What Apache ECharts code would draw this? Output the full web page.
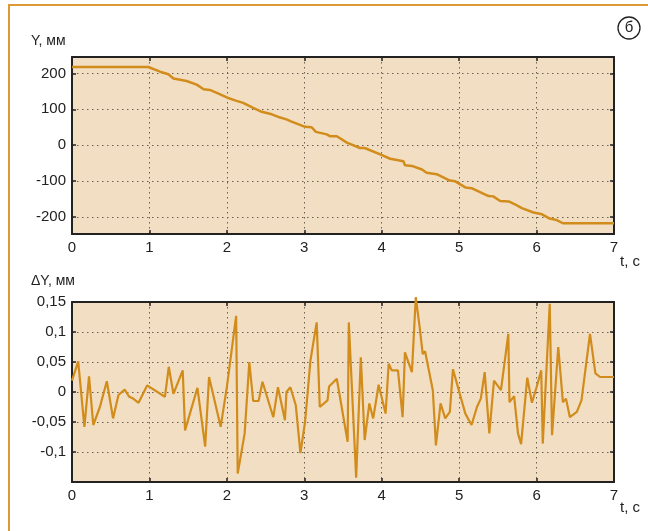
<!DOCTYPE html>
<html>
<head>
<meta charset="utf-8">
<script src="https://cdn.jsdelivr.net/npm/echarts@6/dist/echarts.min.js"></script>
<style>
html,body{margin:0;padding:0;background:#fff;}
#c{width:648px;height:531px;}
</style>
</head>
<body>
<div id="c"></div>
<script>
// ---- Data ----
const xTicks = [0, 1, 2, 3, 4, 5, 6, 7];
const topT = [0, 0.985, 1.137, 1.245, 1.31, 1.48, 1.61, 1.70, 1.78, 1.87, 2.0, 2.105, 2.21, 2.34, 2.45, 2.58, 2.69, 2.77, 2.82, 3.01, 3.095, 3.15, 3.29, 3.33, 3.42, 3.55, 3.72, 3.78, 3.98, 4.11, 4.28, 4.30, 4.39, 4.52, 4.58, 4.71, 4.88, 4.95, 5.08, 5.16, 5.38, 5.44, 5.53, 5.64, 5.72, 5.81, 5.96, 6.07, 6.17, 6.26, 6.34, 7.0];
const topY = [218, 218, 205, 198, 186, 179, 169, 156, 154, 146, 133, 125, 118, 104, 93, 86, 77, 72, 67, 51, 50, 37, 30, 25, 25, 7, -8, -8, -26, -38, -45, -56, -58, -68, -77, -81, -99, -101, -118, -120, -142, -143, -156, -157, -165, -176, -188, -193, -205, -209, -218, -218];
const topYTicks = [-200, -100, 0, 100, 200];

const botT = [0, 0.08, 0.16, 0.22, 0.275, 0.36, 0.45, 0.53, 0.60, 0.68, 0.74, 0.79, 0.86, 0.97, 1.20, 1.25, 1.31, 1.43, 1.46, 1.62, 1.72, 1.77, 1.92, 2.0, 2.12, 2.14, 2.23, 2.29, 2.34, 2.41, 2.46, 2.60, 2.66, 2.75, 2.77, 2.82, 2.89, 2.95, 3.01, 3.08, 3.16, 3.20, 3.30, 3.32, 3.42, 3.56, 3.575, 3.585, 3.67, 3.73, 3.78, 3.84, 3.89, 3.96, 4.05, 4.09, 4.13, 4.21, 4.27, 4.30, 4.39, 4.44, 4.49, 4.53, 4.56, 4.66, 4.70, 4.76, 4.82, 4.88, 4.92, 5.08, 5.16, 5.23, 5.28, 5.33, 5.39, 5.45, 5.54, 5.635, 5.65, 5.71, 5.76, 5.80, 5.88, 5.94, 6.00, 6.06, 6.08, 6.17, 6.20, 6.28, 6.34, 6.38, 6.43, 6.52, 6.58, 6.69, 6.76, 6.82, 7.0];
const botV = [0.019, 0.051, -0.058, 0.026, -0.055, -0.025, 0.018, -0.044, -0.005, 0.004, -0.008, -0.011, -0.018, 0.011, -0.008, 0.042, -0.003, 0.036, -0.064, 0.007, -0.091, 0.025, -0.058, 0.008, 0.127, -0.136, -0.069, 0.050, -0.015, -0.015, 0.017, -0.042, 0.008, -0.047, 0.0, 0.008, -0.022, -0.102, -0.05, 0.053, 0.116, -0.025, -0.014, 0.009, 0.022, -0.083, 0.116, 0.116, -0.143, 0.058, -0.080, -0.019, -0.044, 0.012, -0.036, 0.047, 0.036, 0.036, -0.042, 0.066, 0.033, 0.158, 0.108, 0.063, 0.068, 0.003, -0.089, -0.019, -0.044, -0.033, 0.038, -0.036, -0.055, -0.025, -0.011, 0.033, -0.069, 0.019, 0.003, 0.097, -0.017, -0.007, -0.069, -0.087, 0.024, -0.018, 0.008, 0.036, -0.086, 0.147, -0.072, 0.075, -0.017, -0.011, -0.042, -0.033, -0.014, 0.097, 0.031, 0.025, 0.025];
const botYTicks = [-0.1, -0.05, 0, 0.05, 0.1, 0.15];

const LINE = '#d28c1c';
const BG = '#f2dfc3';
const FRAME = '#dc9a34';
const TXT = '#222';
const FONT = 'Liberation Sans';

function fmtComma(v) {
  const r = Math.round(v * 1000) / 1000;
  return String(r).replace('.', ',');
}

const chart = echarts.init(document.getElementById('c'), null, {renderer: 'canvas'});

const gridLine = {show: true, lineStyle: {color: '#6b5f50', type: [1.5, 3.5], width: 1}};
const tickIn = {show: true, inside: true, length: 4, lineStyle: {color: '#222', width: 1.5}};
const lbl = {color: TXT, fontSize: 15, fontFamily: FONT};
const axLine = {show: true, onZero: false, lineStyle: {color: '#222', width: 2}};

function xAx(grid) {
  return {
    type: 'value', gridIndex: grid, min: 0, max: 7, interval: 1,
    axisLine: axLine,
    axisTick: tickIn, splitLine: gridLine,
    axisLabel: Object.assign({margin: 6}, lbl)
  };
}
function xAxTop(grid) {
  return {
    type: 'value', gridIndex: grid, min: 0, max: 7, interval: 1, position: 'top',
    axisLine: axLine,
    axisTick: tickIn, splitLine: {show: false}, axisLabel: {show: false}
  };
}

const option = {
  animation: false,
  backgroundColor: '#fff',
  grid: [
    {left: 72, top: 57, width: 542, height: 177, show: true, backgroundColor: BG, borderWidth: 0},
    {left: 72, top: 302, width: 542, height: 180, show: true, backgroundColor: BG, borderWidth: 0}
  ],
  xAxis: [xAx(0), xAx(1), xAxTop(0), xAxTop(1)],
  yAxis: [
    {
      type: 'value', gridIndex: 0, min: -248, max: 246,
      axisLine: axLine,
      axisTick: Object.assign({customValues: topYTicks}, tickIn),
      splitLine: gridLine,
      axisLabel: Object.assign({margin: 6, customValues: topYTicks}, lbl)
    },
    {
      type: 'value', gridIndex: 1, min: -0.15, max: 0.15, interval: 0.05,
      axisLine: axLine,
      axisTick: tickIn, splitLine: gridLine,
      axisLabel: Object.assign({margin: 6, showMinLabel: false,
        formatter: function (v) { return fmtComma(v); }}, lbl)
    },
    {
      type: 'value', gridIndex: 0, min: -248, max: 246, position: 'right',
      axisLine: axLine,
      axisTick: Object.assign({customValues: topYTicks}, tickIn),
      splitLine: {show: false}, axisLabel: {show: false}
    },
    {
      type: 'value', gridIndex: 1, min: -0.15, max: 0.15, interval: 0.05, position: 'right',
      axisLine: axLine,
      axisTick: tickIn, splitLine: {show: false}, axisLabel: {show: false}
    }
  ],
  series: [
    {
      type: 'line', xAxisIndex: 0, yAxisIndex: 0, symbol: 'none',
      lineStyle: {color: LINE, width: 2.5},
      data: topT.map((t, i) => [t, topY[i]])
    },
    {
      type: 'line', xAxisIndex: 1, yAxisIndex: 1, symbol: 'none', clip: false,
      lineStyle: {color: LINE, width: 2.2},
      data: botT.map((t, i) => [t, botV[i]])
    }
  ],
  graphic: [
    {type: 'polyline', shape: {points: [[9, 540], [9, 5], [660, 5]]}, style: {stroke: FRAME, lineWidth: 2, fill: null}},
    {type: 'text', left: 31, top: 34, style: {text: 'Y, мм', fill: TXT, font: '14px "Liberation Sans"'}},
    {type: 'text', left: 31, top: 274, style: {text: 'ΔY, мм', fill: TXT, font: '14px "Liberation Sans"'}},
    {type: 'text', left: 620, top: 254, style: {text: 't, с', fill: TXT, font: '15px "Liberation Sans"'}},
    {type: 'text', left: 620, top: 500, style: {text: 't, с', fill: TXT, font: '15px "Liberation Sans"'}},
    {type: 'circle', shape: {cx: 629, cy: 28, r: 11}, style: {stroke: '#222', lineWidth: 1.3, fill: '#fff'}},
    {type: 'text', x: 629, y: 28, style: {text: 'б', fill: TXT, font: '15px "Liberation Sans"', align: 'center', verticalAlign: 'middle'}}
  ]
};
chart.setOption(option);
</script>
</body>
</html>
